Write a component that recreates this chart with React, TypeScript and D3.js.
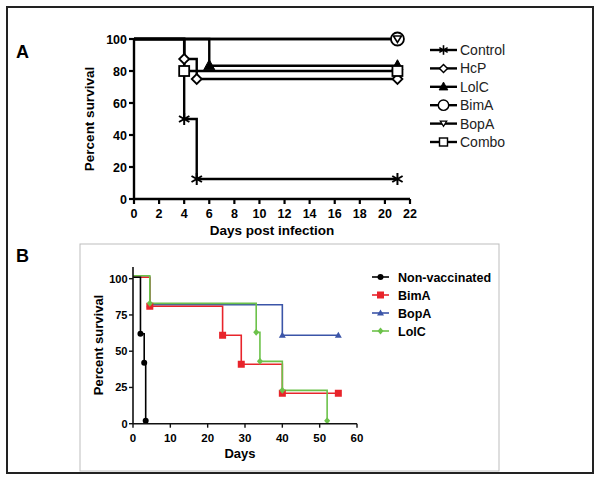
import React from "react";
import * as d3 from "d3";

// Panel A data
const aXTicks = [0, 2, 4, 6, 8, 10, 12, 14, 16, 18, 20, 22];
const aYTicks = [0, 20, 40, 60, 80, 100];
const aNames = ["Control", "HcP", "LolC", "BimA", "BopA", "Combo"];
const controlT = [0, 4, 5, 21];
const controlS = [100, 50, 12.5, 12.5];
const hcpT = [0, 4, 5, 21];
const hcpS = [100, 87.5, 75, 75];
const lolcAT = [0, 6, 21];
const lolcAS = [100, 83.3, 83.3];
const bimaAT = [0, 21];
const bimaAS = [100, 100];
const bopaAT = [0, 21];
const bopaAS = [100, 100];
const comboT = [0, 4, 21];
const comboS = [100, 80, 80];

// Panel B data
const bXTicks = [0, 10, 20, 30, 40, 50, 60];
const bYTicks = [0, 25, 50, 75, 100];
const bNames = ["Non-vaccinated", "BimA", "BopA", "LolC"];
const nonvT = [0, 2, 3, 3.4];
const nonvS = [101, 62, 42, 2];
const bimaBT = [0, 4.5, 24, 29, 40, 55];
const bimaBS = [101, 81, 61, 41, 21, 21];
const bopaBT = [0, 4.5, 40, 55];
const bopaBS = [101, 82, 61, 61];
const lolcBT = [0, 4.5, 33, 34, 40, 52];
const lolcBS = [102, 83, 63, 43, 23, 2];

const FONT = "'Liberation Sans', Arial, Helvetica, sans-serif";

type Mk = "star" | "diamond" | "triUp" | "circle" | "triDown" | "square" | "dot" | "sq" | "tri" | "dia";

function Marker({ x, y, kind, color = "black", k = 1 }: { x: number; y: number; kind: Mk; color?: string; k?: number }) {
  const sw = 1.8;
  const inner = (() => {
    switch (kind) {
      case "star": {
        const r = 6;
        return (
          <g stroke={color} strokeWidth={2}>
            {[0, 60, 120].map((a) => {
              const rad = ((a + 90) * Math.PI) / 180;
              return <line key={a} x1={-r * Math.cos(rad)} y1={-r * Math.sin(rad)} x2={r * Math.cos(rad)} y2={r * Math.sin(rad)} />;
            })}
          </g>
        );
      }
      case "diamond":
        return <path d="M0,-5L5,0L0,5L-5,0Z" fill="white" stroke={color} strokeWidth={sw} />;
      case "triUp":
        return <path d="M0,-6L5.5,4L-5.5,4Z" fill={color} stroke={color} strokeWidth={1} />;
      case "circle":
        return <circle cx={0} cy={0} r={6.5} fill="white" stroke={color} strokeWidth={sw} />;
      case "triDown":
        return <path d="M-4,-3L4,-3L0,3.5Z" fill="white" stroke={color} strokeWidth={1.6} />;
      case "square":
        return <rect x={-5} y={-5} width={10} height={10} fill="white" stroke={color} strokeWidth={sw} />;
      case "dot":
        return <circle cx={0} cy={0} r={3} fill={color} />;
      case "sq":
        return <rect x={-3.5} y={-3.5} width={7} height={7} fill={color} />;
      case "tri":
        return <path d="M0,-3.5L3.5,2.5L-3.5,2.5Z" fill={color} />;
      case "dia":
        return <path d="M0,-3.5L3,0L0,3.5L-3,0Z" fill={color} />;
    }
    return null;
  })();
  return <g transform={`translate(${x},${y}) scale(${k})`}>{inner}</g>;
}

export default function App() {
  const ax = d3.scaleLinear().domain([0, 22]).range([134, 410]);
  const ay = d3.scaleLinear().domain([0, 100]).range([199, 39]);
  const aLine = d3
    .line<[number, number]>()
    .x((d) => ax(d[0]))
    .y((d) => ay(d[1]))
    .curve(d3.curveStepAfter);

  const aSeries = [
    { name: aNames[0], t: controlT, s: controlS, mk: "star" as Mk },
    { name: aNames[1], t: hcpT, s: hcpS, mk: "diamond" as Mk },
    { name: aNames[2], t: lolcAT, s: lolcAS, mk: "triUp" as Mk },
    { name: aNames[3], t: bimaAT, s: bimaAS, mk: "circle" as Mk },
    { name: aNames[4], t: bopaAT, s: bopaAS, mk: "triDown" as Mk },
    { name: aNames[5], t: comboT, s: comboS, mk: "square" as Mk },
  ];

  const bx = d3.scaleLinear().domain([0, 60]).range([133, 357]);
  const by = d3.scaleLinear().domain([0, 100]).range([423.7, 278.7]);
  const bLine = d3
    .line<[number, number]>()
    .x((d) => bx(d[0]))
    .y((d) => by(d[1]))
    .curve(d3.curveStepAfter);

  const bSeries = [
    { name: bNames[2], t: bopaBT, s: bopaBS, mk: "tri" as Mk, color: "#3b55a8" },
    { name: bNames[1], t: bimaBT, s: bimaBS, mk: "sq" as Mk, color: "#e8242b" },
    { name: bNames[3], t: lolcBT, s: lolcBS, mk: "dia" as Mk, color: "#6cc24a" },
    { name: bNames[0], t: nonvT, s: nonvS, mk: "dot" as Mk, color: "#000000" },
  ];
  const bLegend = [bSeries[3], bSeries[1], bSeries[0], bSeries[2]];

  return (
    <svg width={601} height={482} style={{ position: "absolute", left: 0, top: 0, background: "white" }} fontFamily={FONT}>
      <rect x={0} y={0} width={601} height={482} fill="white" />
      <rect x={7} y={7} width={586} height={466} fill="none" stroke="#222" strokeWidth={2} />

      {/* Panel A */}
      <text x={16} y={58} fontSize={18} fontWeight="bold">A</text>
      {aSeries.map((se) => (
        <path key={se.name} d={aLine(se.t.map((t, i) => [t, se.s[i]] as [number, number])) || ""} fill="none" stroke="black" strokeWidth={2.4} />
      ))}
      {aSeries.map((se) =>
        se.t.map((t, i) => (i === 0 ? null : <Marker key={se.name + i} x={ax(t)} y={ay(se.s[i])} kind={se.mk} />))
      )}
      <line x1={134} x2={134} y1={ay(100)} y2={ay(0)} stroke="black" strokeWidth={2.4} />
      <line x1={134} x2={410} y1={ay(0)} y2={ay(0)} stroke="black" strokeWidth={2.4} />
      {aYTicks.map((v) => (
        <g key={v}>
          <line x1={129} x2={134} y1={ay(v)} y2={ay(v)} stroke="black" strokeWidth={2.2} />
          <text x={127} y={ay(v) + 4.5} fontSize={12.5} fontWeight="bold" textAnchor="end">{v}</text>
        </g>
      ))}
      {aXTicks.map((v) => (
        <g key={v}>
          <line x1={ax(v)} x2={ax(v)} y1={199} y2={204} stroke="black" strokeWidth={2.2} />
          <text x={ax(v)} y={217.5} fontSize={12.5} fontWeight="bold" textAnchor="middle">{v}</text>
        </g>
      ))}
      <text transform={`translate(94,119) rotate(-90)`} fontSize={13.5} fontWeight="bold" textAnchor="middle">Percent survival</text>
      <text x={272} y={235} fontSize={13.5} fontWeight="bold" textAnchor="middle">Days post infection</text>
      {aSeries.map((se, i) => {
        const y = 50 + i * 18.4;
        return (
          <g key={se.name}>
            <line x1={430} x2={457} y1={y} y2={y} stroke="black" strokeWidth={2.4} />
            <Marker x={443.5} y={y} kind={se.mk} k={0.8} />
            <text x={460} y={y + 5} fontSize={14} fill="#222">{se.name}</text>
          </g>
        );
      })}

      {/* Panel B */}
      <text x={16} y={262} fontSize={18} fontWeight="bold">B</text>
      <rect x={80} y={244} width={419} height={227} fill="none" stroke="#bdbdbd" strokeWidth={1} />
      {bSeries.map((se) => (
        <path key={se.name} d={bLine(se.t.map((t, i) => [t, se.s[i]] as [number, number])) || ""} fill="none" stroke={se.color} strokeWidth={1.6} />
      ))}
      {bSeries.map((se) =>
        se.t.map((t, i) => (i === 0 ? null : <Marker key={se.name + i} x={bx(t)} y={by(se.s[i])} kind={se.mk} color={se.color} />))
      )}
      <line x1={133} x2={133} y1={267} y2={by(0)} stroke="#111" strokeWidth={1.6} />
      <line x1={133} x2={357} y1={by(0)} y2={by(0)} stroke="#111" strokeWidth={1.6} />
      {bYTicks.map((v) => (
        <g key={v}>
          <line x1={129} x2={133} y1={by(v)} y2={by(v)} stroke="#111" strokeWidth={1.4} />
          <text x={127.5} y={by(v) + 4} fontSize={11} fontWeight="bold" textAnchor="end">{v}</text>
        </g>
      ))}
      {bXTicks.map((v) => (
        <g key={v}>
          <line x1={bx(v)} x2={bx(v)} y1={by(0)} y2={by(0) + 4} stroke="#111" strokeWidth={1.4} />
          <text x={bx(v)} y={441.5} fontSize={11.5} fontWeight="bold" textAnchor="middle">{v}</text>
        </g>
      ))}
      <text transform={`translate(103,345) rotate(-90)`} fontSize={13} fontWeight="bold" textAnchor="middle">Percent survival</text>
      <text x={240} y={458} fontSize={13} fontWeight="bold" textAnchor="middle">Days</text>
      {bLegend.map((se, i) => {
        const y = 277 + i * 18;
        return (
          <g key={se.name}>
            <line x1={372} x2={389} y1={y} y2={y} stroke={se.color} strokeWidth={1.6} />
            <Marker x={380.5} y={y} kind={se.mk} color={se.color} />
            <text x={398} y={y + 4.5} fontSize={12.5} fontWeight="bold">{se.name}</text>
          </g>
        );
      })}
    </svg>
  );
}
